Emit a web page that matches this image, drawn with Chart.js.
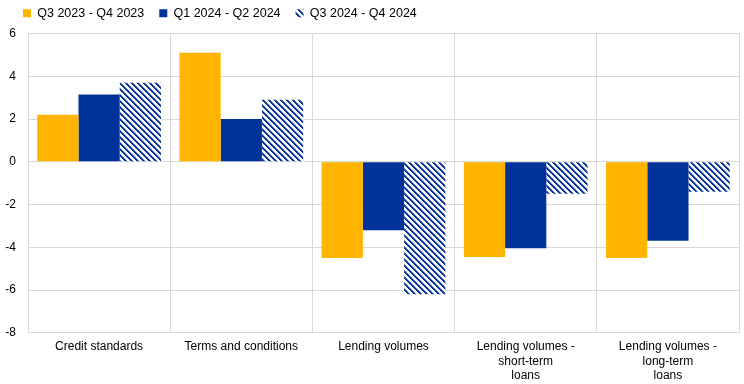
<!DOCTYPE html>
<html><head><meta charset="utf-8">
<script src="https://cdn.jsdelivr.net/npm/chart.js@4/dist/chart.umd.min.js"></script>
<style>html,body{margin:0;padding:0;background:#fff}#w{width:744px;height:384px}</style>
</head><body><div id="w"><canvas id="c" width="744" height="384"></canvas></div>
<script>
const categories = ["Credit standards", "Terms and conditions", "Lending volumes", ["Lending volumes -", "short-term", "loans"], ["Lending volumes -", "long-term", "loans"]];
const seriesNames = ["Q3 2023 - Q4 2023", "Q1 2024 - Q2 2024", "Q3 2024 - Q4 2024"];
const q3_2023_q4_2023 = [2.2, 5.1, -4.5, -4.45, -4.5];
const q1_2024_q2_2024 = [3.15, 2.0, -3.2, -4.05, -3.7];
const q3_2024_q4_2024 = [3.7, 2.9, -6.2, -1.5, -1.4];
const yTicks = [6, 4, 2, 0, -2, -4, -6, -8];

function hatch() {
  const p = document.createElement('canvas');
  p.width = 6; p.height = 6;
  const g = p.getContext('2d');
  g.fillStyle = '#fff'; g.fillRect(0,0,6,6);
  for (let y = 0; y < 6; y++) for (let x = 0; x < 6; x++) {
    const d = ((x - y) % 6 + 6) % 6;
    if (d === 0 || d === 1) { g.fillStyle = '#003299'; g.fillRect(x,y,1,1); }
    else if (d === 2) { g.fillStyle = '#6f86c4'; g.fillRect(x,y,1,1); }
  }
  return g.createPattern(p, 'repeat');
}
const ctx = document.getElementById('c').getContext('2d');
const pat = hatch();
Chart.defaults.font.family = "'Liberation Sans', Arial, sans-serif";
Chart.defaults.color = '#000';
const legendShift = {
  id: 'legendShift',
  afterLayout(chart) {
    if (chart.legend) { chart.legend.left += 8; chart.legend.top -= 4; }
  }
};
new Chart(ctx, {
  type: 'bar',
  data: {
    labels: categories,
    datasets: [
      {label: seriesNames[0], data: q3_2023_q4_2023, backgroundColor: '#FFB400'},
      {label: seriesNames[1], data: q1_2024_q2_2024, backgroundColor: '#003299'},
      {label: seriesNames[2], data: q3_2024_q4_2024, backgroundColor: pat}
    ]
  },
  plugins: [legendShift],
  options: {
    responsive: false, animation: false,
    layout: {padding: {left: 0, right: 5, top: -4, bottom: -6}},
    datasets: {bar: {categoryPercentage: 0.87, barPercentage: 1.0}},
    plugins: {
      legend: {position: 'top', align: 'start',
        labels: {boxWidth: 8, boxHeight: 8, padding: 15, font: {size: 12.5}, color: '#000'}},
      tooltip: {enabled: false}
    },
    scales: {
      x: {grid: {color: '#d9d9d9', offset: true, drawTicks: false}, border: {color: '#d9d9d9'},
          ticks: {maxRotation: 0, autoSkip: false, font: {size: 12}, padding: 7}},
      y: {min: -8, max: 6, afterBuildTicks: s => { s.ticks = yTicks.map(v => ({value: v})); },
          afterFit: s => { s.width = 28; },
          grid: {color: '#d9d9d9', drawTicks: false}, border: {color: '#d9d9d9'},
          ticks: {font: {size: 12}, padding: 12}}
    }
  }
});
</script></body></html>
